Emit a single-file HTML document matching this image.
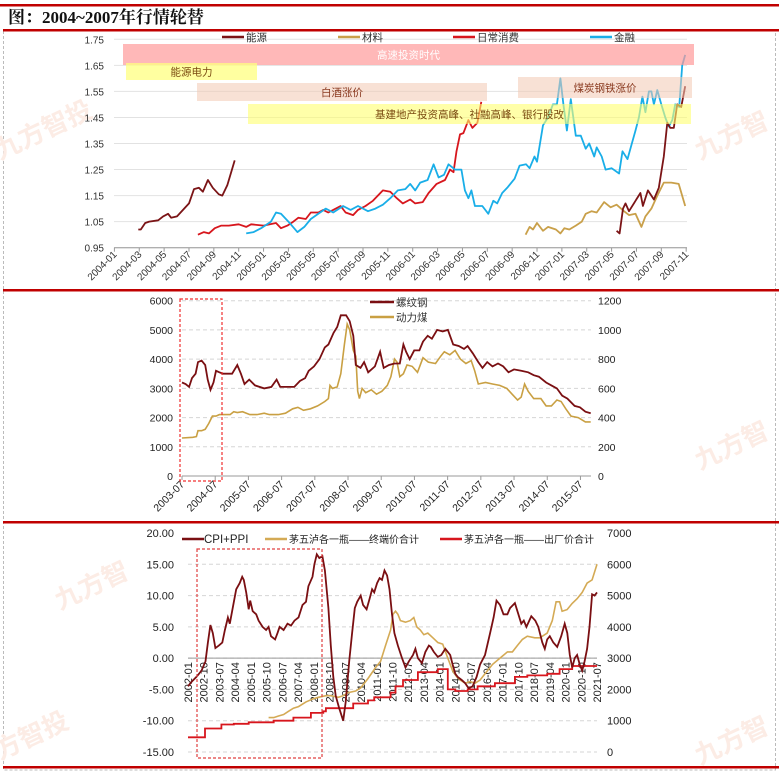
<!DOCTYPE html>
<html><head><meta charset="utf-8">
<style>
html,body{margin:0;padding:0;background:#fff;}
svg{display:block;font-family:"Liberation Sans","Noto Sans CJK SC",sans-serif;}
</style></head>
<body>
<svg id="s" width="779" height="772" viewBox="0 0 779 772" xmlns="http://www.w3.org/2000/svg">
<rect x="0" y="0" width="779" height="772" fill="#fff"/>
<rect x="3.5" y="30" width="772" height="740" fill="none" stroke="#bbb" stroke-dasharray="3,2"/>
<g id="wm" fill="#fcece5" font-size="26" font-weight="bold" font-family="'Noto Sans CJK SC',sans-serif">
<text x="0" y="160" transform="rotate(-25 0 160)">九方智投</text>
<text x="700" y="160" transform="rotate(-25 700 160)">九方智</text>
<text x="60" y="610" transform="rotate(-25 60 610)">九方智</text>
<text x="0" y="760" transform="rotate(-25 0 760)">方智投</text>
<text x="700" y="470" transform="rotate(-25 700 470)">九方智</text>
<text x="700" y="765" transform="rotate(-25 700 765)">九方智</text>
</g>
<rect x="0" y="4" width="779" height="2.5" fill="#c00000"/>
<text x="8" y="23" font-size="17" font-weight="bold" font-family="'Liberation Serif','Noto Serif CJK SC',serif" fill="#111">图：2004~2007年行情轮替</text>
<rect x="3" y="29" width="776" height="2.5" fill="#c00000"/>
<rect x="3" y="289" width="776" height="2.5" fill="#c00000"/>
<rect x="3" y="521" width="776" height="2.5" fill="#c00000"/>
<rect x="3" y="766" width="776" height="2.5" fill="#c00000"/>
<g id="p1"></g>
<g id="p2"></g>
<g id="p3"></g>
</svg>
<script>
// ---------- Panel 1 data ----------
const p1TickLabels = ["2004-01","2004-03","2004-05","2004-07","2004-09","2004-11","2005-01","2005-03","2005-05","2005-07","2005-09","2005-11","2006-01","2006-03","2006-05","2006-07","2006-09","2006-11","2007-01","2007-03","2007-05","2007-07","2007-09","2007-11"];
const p1YTicks = [0.95,1.05,1.15,1.25,1.35,1.45,1.55,1.65,1.75];
const energyM1 = [1.92,2.12,2.48,2.8,3.52,3.92,4.32,4.56,5.04,5.52,6,6.4,6.8,7.12,7.52,7.92,8.4,8.68,9.08,9.68];
const energyV1 = [1.02,1.02,1.045,1.05,1.055,1.07,1.08,1.065,1.07,1.095,1.12,1.175,1.18,1.165,1.21,1.18,1.155,1.15,1.19,1.285];
const energyM2 = [40.4,40.64,40.92,41.12,41.4,41.92,42.32,42.52,42.92,43.4,43.8,44.2,44.48,44.72,45,45.28,45.6,45.92];
const energyV2 = [1.015,1.005,1.1,1.12,1.09,1.13,1.16,1.11,1.17,1.135,1.18,1.3,1.43,1.41,1.41,1.5,1.49,1.57];
const consumerM = [6.72,7.2,7.6,8.08,8.6,9.2,10,10.6,11,12,13,13.4,13.92,14.4,14.8,15.4,15.8,16.4,16.8,17.2,17.6,18.2,18.6,19.2,19.6,20.2,20.8,21.6,22.2,22.72,23.2,23.8,24.2,24.8,25.28,25.92,26.6,27,27.28,27.52,27.8,28.08,28.48,28.8,29.2,29.52];
const consumerV = [1.0,1.01,1.005,1.025,1.035,1.035,1.04,1.03,1.04,1.035,1.045,1.025,1.035,1.05,1.065,1.06,1.085,1.085,1.095,1.085,1.095,1.11,1.085,1.075,1.095,1.11,1.13,1.17,1.165,1.14,1.12,1.135,1.12,1.125,1.16,1.195,1.21,1.25,1.24,1.32,1.385,1.39,1.44,1.41,1.43,1.51];
const financeM = [10.6,11.2,11.8,12.6,13,13.4,14,14.72,15.28,15.8,16.4,17,17.6,18.4,19,19.6,20.4,21,21.6,22.2,22.8,23.4,23.8,24.2,24.6,25.2,25.68,26.08,26.52,26.88,27.4,27.92,28.2,28.48,28.72,29,29.6,30.08,30.48,30.8,31.2,31.6,32.2,32.6,33.12,33.4,33.8,34,34.48,34.88,35.28,35.6,35.88,36.12,36.4,36.72,37.12,37.52,37.92,38.2,38.6,38.8,39.2,39.52,40,40.6,40.88,41.28,41.6,41.92,42.2,42.48,42.72,43,43.2,43.4,43.68,44,44.32,44.6,44.88,45.12,45.44,45.68,45.92];
const financeV = [1.005,1.01,1.025,1.05,1.085,1.08,1.05,1.01,1.03,1.06,1.08,1.1,1.085,1.11,1.095,1.11,1.09,1.1,1.115,1.14,1.17,1.175,1.195,1.17,1.2,1.21,1.27,1.22,1.23,1.27,1.25,1.25,1.17,1.14,1.17,1.11,1.11,1.08,1.13,1.12,1.16,1.18,1.215,1.265,1.27,1.255,1.3,1.28,1.42,1.45,1.5,1.5,1.6,1.5,1.4,1.52,1.38,1.38,1.33,1.35,1.3,1.335,1.3,1.25,1.255,1.235,1.32,1.29,1.345,1.4,1.45,1.53,1.47,1.55,1.55,1.5,1.555,1.5,1.45,1.415,1.44,1.5,1.49,1.65,1.69];
const materialM = [33.08,33.4,33.68,34,34.48,34.88,35.52,35.88,36.2,36.6,37.12,37.6,37.92,38.4,38.8,39.4,39.92,40.4,41,41.4,41.92,42.4,42.72,43.2,43.68,44.2,44.8,45.4,45.92];
const materialV = [1.0,1.03,1.02,1.045,1.015,1.03,1.02,1.005,1.025,1.02,1.035,1.05,1.08,1.09,1.085,1.125,1.105,1.115,1.09,1.075,1.08,1.03,1.07,1.1,1.15,1.2,1.2,1.195,1.11];

// ---------- Panel 2 data ----------
const p2TickLabels = ["2003-07","2004-07","2005-07","2006-07","2007-07","2008-07","2009-07","2010-07","2011-07","2012-07","2013-07","2014-07","2015-07"];
const p2LeftTicks = [0,1000,2000,3000,4000,5000,6000];
const p2RightTicks = [0,200,400,600,800,1000,1200];
const rebarM = [0,1.29,2.58,3.61,4.9,5.8,7.1,8.4,9.3,10.3,11.4,12.3,13.5,14.8,18.1,20,21.3,22.6,24.3,26.4,29.7,32.3,34.2,35.5,37.4,40.6,42.6,44.5,45.8,47.7,49.7,51.6,52.9,54.8,56.1,57.4,59.3,60.6,61.9,62.8,64.5,65.8,67.3,69.7,71.6,72.9,74.8,76.8,78.7,80,81,82.3,83.9,85.8,87.1,88.8,90.3,92.2,94.2,96.1,98,100,101.9,103.2,105.1,107.1,108.6,110.3,112.2,114.2,116.1,118,120,122.6,125.1,127.1,129,131.6,133.5,135.5,137.4,139.3,141.9,143.8,145.8,147.7];
const rebarV = [3200,3150,3050,3350,3500,3900,3950,3800,3300,2950,3200,3600,3550,3500,3500,3800,3500,3150,3300,3100,3000,3050,3300,3050,3050,3050,3250,3350,3600,3750,4000,4400,4500,4900,5100,5500,5500,5300,4800,3800,3700,3900,3550,3750,4250,3700,3800,3850,3850,4500,4250,4000,4300,4300,4600,4800,4700,5000,4950,5000,4500,4450,4350,4450,4200,3900,3700,3900,3750,3850,3750,3550,3650,3600,3550,3450,3400,3200,3100,3000,2750,2650,2400,2350,2200,2150];
const coalM = [0,3.9,5.2,5.8,7.1,8.4,9.7,11,12.3,13.5,15.5,17.4,18.7,20,21.9,24.5,27.1,29.7,31.6,34.8,37.4,40,41.9,43.9,46.4,49,51.6,52.9,53.5,54.4,56.1,57.4,58.7,59.7,60.6,61.9,62.8,63.5,64.1,65.1,66.4,68.4,70.3,72.2,74.2,75.5,76.8,77.7,78.7,80,81.3,83.2,85.1,87.1,89,91.6,93.5,94.8,96.8,98.7,100.6,102.6,104.5,105.8,107.1,109.7,112.2,114.8,117.4,119.3,121.3,122.6,123.8,125.1,127.1,129.7,131.6,133.5,135.5,137,138.7,140.6,143.2,145.8,147.7];
const coalV = [260,265,270,310,310,320,360,410,410,420,420,420,440,435,440,420,420,430,420,420,430,460,470,450,460,480,510,530,620,600,610,700,900,1040,1000,860,820,580,530,600,570,590,560,580,620,680,800,780,680,700,760,750,710,810,780,770,820,850,830,860,800,770,790,720,630,640,630,620,600,560,520,540,630,580,530,530,480,480,520,510,460,410,400,370,370];

// ---------- Panel 3 data ----------
const p3TickLabels = ["2002-01","2002-10","2003-07","2004-04","2005-01","2005-10","2006-07","2007-04","2008-01","2008-10","2009-07","2010-04","2011-01","2011-10","2012-07","2013-04","2014-01","2014-10","2015-07","2016-04","2017-01","2017-10","2018-07","2019-04","2020-01","2020-10","2021-07"];
const p3LeftTicks = [-15,-10,-5,0,5,10,15,20];
const p3RightTicks = [0,1000,2000,3000,4000,5000,6000,7000];
const cpiM = [0,2,4.8,7.7,10,11.4,12.8,14.2,15.7,17.6,19.6,21.1,22.8,23.9,25.6,27.6,29.6,31,31.9,33.3,34.7,35.6,37,39,40.4,42.7,44.7,46.1,47.5,49.8,51.2,52.4,54.7,56.9,58.9,60.9,63.2,65.5,67.5,68.9,71.2,72.3,73.7,75.1,76.9,78.3,80.3,81.7,83.1,84.5,86.5,88.8,90.2,92.2,93.9,95.4,96.8,98.8,100.2,102.2,103.9,105.3,106.5,108.2,109.6,111,112.4,113.9,115.3,116.7,118.1,120.1,122.4,124.4,126.4,128.7,130.1,131.5,133.8,135.8,137.8,138.9,140.6,142.9,144.9,147.2,148.6,150,151.4,152.9,154.3,156.6,158.6,160.5,162.8,165.1,167.1,169.9,172.8,174.8,176.5,178.5,180.5,182.7,184.2,187,189,190.7,192.1,193.6,196.4,198.7,200.4,202.7,204.1,205.5,207,209,211.2,213.5,215.5,217,218.4,219.8,221.2,222.6,224.1,225.5,226.9,228.3,229.7,231.2,232.6,234];
const cpiV = [-4.5,-3.8,-3,-2,-0.5,2.5,5.3,4,1.6,2,2.5,4.5,6.5,5.5,8,11,12,13,12.5,10.5,7.8,9.2,7.5,7,6,5,4.5,5,3.5,3,4,5,4.5,5.5,5.2,6,6.5,8.5,9,11.5,13,15,16.6,16,16.3,14,8,2,-3,-6,-8,-10,-7,-0.5,4,8,9,10,8.5,7.8,9.5,11,10.5,12,12.8,12.5,14,13.2,11,7,4,2,0,-1.5,-0.5,0.5,1.5,0,-0.8,1,2,1.8,1,0.2,0.5,1.5,1,0.5,-1,-2.5,-3,-3.5,-4,-4.8,-4.5,-3,-1,0.5,4,6.5,9.2,8.5,7,7,8,8.8,7,5.5,6,5,6.7,6,5,2.5,1.5,3,3.5,2.5,1.8,3.5,5.5,4,0.5,-1.5,0,0.5,-1,-2,-0.5,1.5,5,10.2,10,10.5];
const retailM = [46.1,49,51.8,54.7,57.5,60.3,63.2,67.5,71.7,74.6,78.9,81.7,86,88.8,91.7,95.9,98.8,103,107.3,110.2,113,115.9,117.3,118.7,120.1,121.5,124.4,127.2,129.2,130.9,132.9,134.9,137.2,140.1,142.9,145.7,148.6,151.4,153.7,155.7,158.6,161.4,164.2,167.1,169.9,174.2,178.5,182.7,185.6,188.4,191.3,194.1,198.4,201.3,205.5,208.4,210.6,212.6,214,216.9,219.8,222.6,225.5,228.3,231.2,234];
const retailV = [1100,1100,1150,1200,1300,1400,1450,1600,1700,1750,1800,1800,1750,1800,1900,1950,2050,2350,2700,2900,3400,3900,4400,4500,4400,4200,4150,4200,4300,4000,3900,3750,3800,3650,3500,3450,3000,2600,2400,2300,2200,2250,2200,2300,2500,2800,3000,3200,3200,3400,3600,3700,3650,3650,3800,4200,4800,4800,4500,4550,4750,4900,5100,5400,5500,6000];
const factoryM = [0,9.7,19.1,26.2,34.7,49,60.3,70.3,77.4,78.9,94.5,103,106.5,115.9,118.7,123,131.5,142.9,148.6,152.9,160,165.7,175.6,187,194.1,205.5,212.6,219.8,234];
const factoryV = [470,750,880,900,950,1000,1100,1250,1300,1400,1550,1650,1750,1900,2100,2300,2550,2650,2000,1950,2000,2100,2200,2400,2450,2500,2650,2750,2750];

const NS = "http://www.w3.org/2000/svg";
function mk(parent, tag, attrs, txt) {
  const e = document.createElementNS(NS, tag);
  for (const k in attrs) e.setAttribute(k, attrs[k]);
  if (txt !== undefined) e.textContent = txt;
  parent.appendChild(e);
  return e;
}
function pathD(ms, vs, xf, yf, step) {
  let d = "";
  for (let i = 0; i < ms.length; i++) {
    const x = xf(ms[i]).toFixed(1), y = yf(vs[i]).toFixed(1);
    if (i === 0) d += "M" + x + "," + y;
    else if (step) d += "H" + x + "V" + y;
    else d += "L" + x + "," + y;
  }
  return d;
}
const CJK = "'Liberation Sans','Noto Sans CJK SC',sans-serif";

// ================= PANEL 1 =================
(function () {
  const g = document.getElementById("p1");
  const x = m => 114.4 + m * 12.43;
  const y = v => 39.3 + (1.75 - v) / 0.8 * 208.4;
  p1YTicks.forEach(v => {
    const gl = mk(g, "line", {x1: 114, x2: 687, y1: y(v), y2: y(v), stroke: "#e2e2e2", "stroke-width": 1});
    
    
    const t = mk(g, "text", {x: 104, y: y(v) + 4, "text-anchor": "end", "font-size": 10, fill: "#333"}, v.toFixed(2));
    
    
  });
  const ax = mk(g, "line", {x1: 114, x2: 687, y1: y(0.95), y2: y(0.95), stroke: "#999", "stroke-width": 1});
  
  
  p1TickLabels.forEach((lb, i) => {
    const xx = x(i * 2);
    const tk = mk(g, "line", {x1: xx, x2: xx, y1: y(0.95), y2: y(0.95) + 4, stroke: "#999"});
    
    
    const t = mk(g, "text", {x: xx + 3, y: 255, "text-anchor": "end", "font-size": 10, fill: "#333", transform: `rotate(-45 ${xx + 3} 255)`}, lb);
    
    
  });
  const series = [
    [energyM1, energyV1, "#7b1416", "energy-line-2004"],
    [consumerM, consumerV, "#d7161d", "consumer-line"],
    [financeM, financeV, "#19aee8", "finance-line"],
    [materialM, materialV, "#c9a04a", "materials-line"],
    [energyM2, energyV2, "#7b1416", "energy-line-2007"]
  ];
  series.forEach(s => {
    const p = mk(g, "path", {d: pathD(s[0], s[1], x, y), fill: "none", stroke: s[2], "stroke-width": 1.8, "stroke-linejoin": "round"});
    
    
  });
  const boxes = [
    [123, 44, 571, 21, "#ff9a9a", 0.7, "高速投资时代", "#fff", "era-high-investment"],
    [126, 63, 131, 17, "#ffff80", 0.75, "能源电力", "#7a4a10", "era-energy-power"],
    [197, 83, 290, 18, "#f3c9b3", 0.55, "白酒涨价", "#8a3a20", "era-liquor-price"],
    [518, 77, 174, 21, "#f3c9b3", 0.55, "煤炭钢铁涨价", "#8a3a20", "era-coal-steel"],
    [248, 104, 443, 20, "#ffff70", 0.6, "基建地产投资高峰、社融高峰、银行股改", "#7a4a10", "era-infrastructure"]
  ];
  boxes.forEach(b => {
    const r = mk(g, "rect", {x: b[0], y: b[1], width: b[2], height: b[3], fill: b[4], "fill-opacity": b[5]});
    
    
    const t = mk(g, "text", {x: b[0] + b[2] / 2, y: b[1] + b[3] / 2 + 4, "text-anchor": "middle", "font-size": 10.5, fill: b[7], "font-family": CJK}, b[6]);
    
    
  });
  const leg = [["能源", "#7b1416", 222], ["材料", "#c9a04a", 338], ["日常消费", "#d7161d", 453], ["金融", "#19aee8", 590]];
  leg.forEach(l => {
    const ln = mk(g, "line", {x1: l[2], x2: l[2] + 22, y1: 37, y2: 37, stroke: l[1], "stroke-width": 2.5});
    
    
    const t = mk(g, "text", {x: l[2] + 24, y: 41, "font-size": 10.5, fill: "#333", "font-family": CJK}, l[0]);
    
    
  });
})();

// ================= PANEL 2 =================
(function () {
  const g = document.getElementById("p2");
  const x = m => 182 + m * 2.767;
  const yL = v => 476 - v / 6000 * 175.3;
  const yR = v => 476 - v / 1200 * 175.3;
  p2LeftTicks.forEach((v, i) => {
    if (v > 0) {
      const gl = mk(g, "line", {x1: 182, x2: 591, y1: yL(v), y2: yL(v), stroke: "#d5d5d5", "stroke-dasharray": "4,3"});
      
      
    }
    const t = mk(g, "text", {x: 173, y: yL(v) + 4, "text-anchor": "end", "font-size": 10.5, fill: "#222"}, v);
    
    
    const t2 = mk(g, "text", {x: 598, y: yL(v) + 4, "font-size": 10.5, fill: "#222"}, p2RightTicks[i]);
    
    
  });
  const ax = mk(g, "line", {x1: 182, x2: 591, y1: 476, y2: 476, stroke: "#999"});
  
  
  p2TickLabels.forEach((lb, i) => {
    const xx = x(i * 12);
    const tk = mk(g, "line", {x1: xx, x2: xx, y1: 476, y2: 480, stroke: "#999"});
    
    
    const t = mk(g, "text", {x: xx + 3, y: 485, "text-anchor": "end", "font-size": 10.5, fill: "#222", transform: `rotate(-45 ${xx + 3} 485)`}, lb);
    
    
  });
  const c = mk(g, "path", {d: pathD(coalM, coalV, x, yR), fill: "none", stroke: "#c9a043", "stroke-width": 1.6});
  
  
  const r = mk(g, "path", {d: pathD(rebarM, rebarV, x, yL), fill: "none", stroke: "#7a0f12", "stroke-width": 1.8});
  
  
  const box = mk(g, "rect", {x: 180, y: 299, width: 42, height: 182, fill: "none", stroke: "#f03030", "stroke-width": 1.2, "stroke-dasharray": "3,2"});
  
  
  [["螺纹钢", "#7a0f12", 302], ["动力煤", "#c9a043", 317]].forEach(l => {
    const ln = mk(g, "line", {x1: 370, x2: 394, y1: l[2], y2: l[2], stroke: l[1], "stroke-width": 2.5});
    
    
    const t = mk(g, "text", {x: 396, y: l[2] + 4, "font-size": 10.5, fill: "#333", "font-family": CJK}, l[0]);
    
    
  });
})();

// ================= PANEL 3 =================
(function () {
  const g = document.getElementById("p3");
  const x = m => 188 + m * 1.748;
  const yL = v => 533 + (20 - v) / 35 * 219;
  const yR = v => 752 - v / 7000 * 219;
  p3LeftTicks.forEach((v, i) => {
    if (v < 20) {
      const gl = mk(g, "line", {x1: 188, x2: 597, y1: yL(v), y2: yL(v), stroke: "#d5d5d5", "stroke-dasharray": "4,3"});
      
      
    }
    const t = mk(g, "text", {x: 174, y: yL(v) + 4, "text-anchor": "end", "font-size": 11, fill: "#222"}, v.toFixed(2));
    
    
    const t2 = mk(g, "text", {x: 607, y: yL(v) + 4, "font-size": 11, fill: "#222"}, p3RightTicks[i]);
    
    
  });
  const y0 = yL(0);
  const ax = mk(g, "line", {x1: 188, x2: 597, y1: y0, y2: y0, stroke: "#999"});
  
  
  p3TickLabels.forEach((lb, i) => {
    const xx = x(i * 9);
    const t = mk(g, "text", {x: xx + 4, y: y0 + 4, "text-anchor": "end", "font-size": 11, fill: "#222", transform: `rotate(-90 ${xx + 4} ${y0 + 4})`}, lb);
    
    
  });
  const f = mk(g, "path", {d: pathD(factoryM, factoryV, x, yR, true), fill: "none", stroke: "#d7161d", "stroke-width": 1.8});
  
  
  const rt = mk(g, "path", {d: pathD(retailM, retailV, x, yR), fill: "none", stroke: "#d4aa55", "stroke-width": 1.6});
  
  
  const cp = mk(g, "path", {d: pathD(cpiM, cpiV, x, yL), fill: "none", stroke: "#7a0f12", "stroke-width": 1.8});
  
  
  const box = mk(g, "rect", {x: 197, y: 549, width: 125, height: 209, fill: "none", stroke: "#e04040", "stroke-width": 1.2, "stroke-dasharray": "3,2"});
  
  
  [["CPI+PPI", "#7a0f12", 182, 204, 11.5], ["茅五泸各一瓶——终端价合计", "#d4aa55", 265, 289, 10], ["茅五泸各一瓶——出厂价合计", "#d7161d", 440, 464, 10]].forEach(l => {
    const ln = mk(g, "line", {x1: l[2], x2: l[2] + 22, y1: 539, y2: 539, stroke: l[1], "stroke-width": 2.5});
    
    
    const t = mk(g, "text", {x: l[3], y: 543, "font-size": l[4], fill: "#222", "font-family": CJK}, l[0]);
    
    
  });
})();
</script>
</body></html>
